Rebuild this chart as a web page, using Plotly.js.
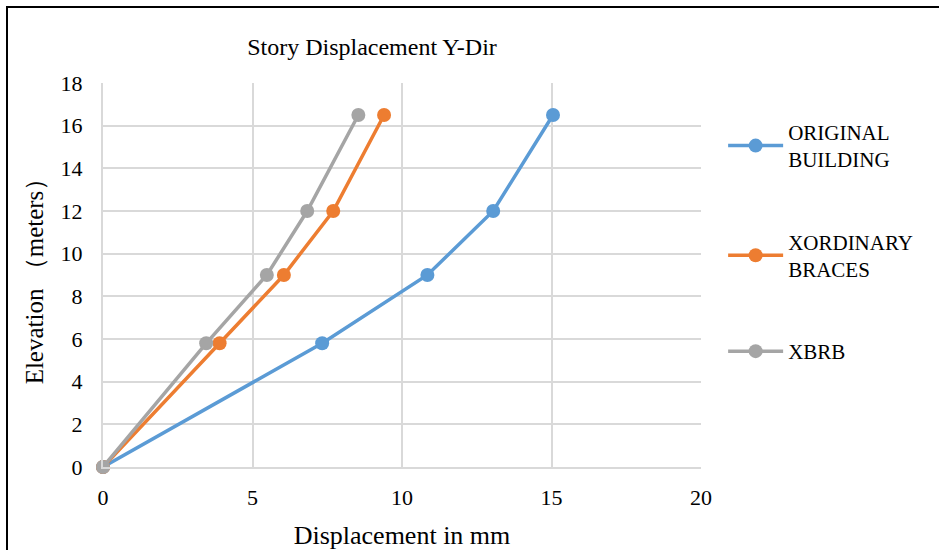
<!DOCTYPE html>
<html>
<head>
<meta charset="utf-8">
<script src="https://cdn.plot.ly/plotly-3.0.1.min.js"></script>
<style>
  html, body { margin: 0; padding: 0; background: #fff; }
  #wrap { position: relative; width: 939px; height: 550px; overflow: hidden; }
  #chart { width: 939px; height: 550px; }
  #frame { position: absolute; left: 6px; top: 6px; width: 960px; height: 600px;
           border-left: 2px solid #000; border-top: 2px solid #000; pointer-events: none; }
</style>
</head>
<body>
<div id="wrap">
  <div id="chart"></div>
  <div id="frame"></div>
</div>
<script>
const elevation = [0, 5.8, 9, 12, 16.5];
const originalBuilding = [0, 7.33, 10.85, 13.05, 15.05];
const xOrdinaryBraces = [0, 3.9, 6.05, 7.7, 9.4];
const xBRB = [0, 3.45, 5.48, 6.83, 8.54];
const seriesNames = ['ORIGINAL<br>BUILDING', 'XORDINARY<br>BRACES', 'XBRB'];
const seriesColors = ['#5B9BD5', '#ED7D31', '#A5A5A5'];
const seriesValues = [originalBuilding, xOrdinaryBraces, xBRB];

const font = 'Liberation Serif, Times New Roman, serif';

const traces = seriesValues.map((vals, i) => ({
  type: 'scatter',
  mode: 'lines+markers',
  x: vals,
  y: elevation,
  name: seriesNames[i],
  legendgroup: 'g' + i,
  line: { color: seriesColors[i], width: 3.5 },
  marker: { color: seriesColors[i], size: 14 },
  cliponaxis: false
}));

const layout = {
  width: 939,
  height: 550,
  margin: { l: 103, r: 238, t: 83, b: 83 },
  paper_bgcolor: '#fff',
  plot_bgcolor: '#fff',
  font: { family: font, color: '#000', size: 21 },
  title: {
    text: 'Story Displacement Y-Dir',
    font: { family: font, size: 24, color: '#000' },
    x: 372 / 939, xanchor: 'center',
    y: 1 - 47 / 550, yanchor: 'middle'
  },
  xaxis: {
    range: [0, 20],
    dtick: 5,
    showgrid: true,
    gridcolor: '#d9d9d9',
    gridwidth: 2,
    zeroline: false,
    showline: true,
    linecolor: '#d9d9d9',
    linewidth: 2,
    ticks: '',
    ticklabelstandoff: 10,
    tickfont: { family: font, size: 22 },
    title: { text: 'Displacement in mm', font: { family: font, size: 26 }, standoff: 16 }
  },
  yaxis: {
    range: [0, 18],
    dtick: 2,
    showgrid: true,
    gridcolor: '#d9d9d9',
    gridwidth: 2,
    zeroline: false,
    showline: true,
    linecolor: '#d9d9d9',
    linewidth: 2,
    ticks: '',
    ticklabelstandoff: 14,
    tickfont: { family: font, size: 22 },
    title: { text: 'Elevation （meters）', font: { family: font, size: 25 }, standoff: 10 }
  },
  legend: {
    x: 1.037, xanchor: 'left',
    y: 0.925, yanchor: 'top',
    font: { family: font, size: 21 },
    tracegroupgap: 52,
    itemwidth: 55,
    bgcolor: 'rgba(0,0,0,0)'
  },
  showlegend: true
};

Plotly.newPlot('chart', traces, layout, { displayModeBar: false, staticPlot: true });
</script>
</body>
</html>
